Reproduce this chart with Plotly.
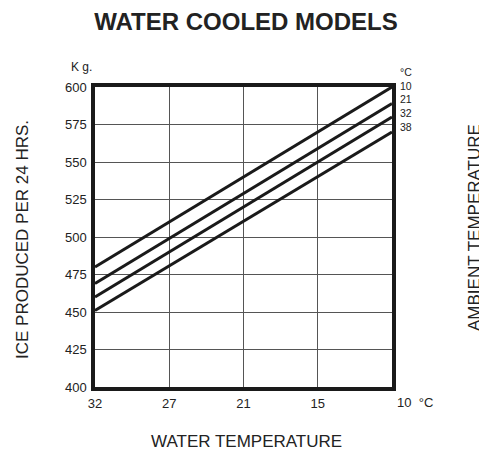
import plotly.graph_objects as go

# ---- data ----
water_temps = ["32", "27", "21", "15", "10"]          # x categories (°C)
ambient_temps = ["10", "21", "32", "38"]              # series (°C)
ice_at_32 = [480, 469, 460, 451]                       # kg / 24h at water 32 °C
ice_at_10 = [600, 589, 580, 570]                       # kg / 24h at water 10 °C
y_ticks = [400, 425, 450, 475, 500, 525, 550, 575, 600]

OFF = 8  # page body margin
W, H = 487 - OFF, 452 - OFF
L, R, T, B = 95 - OFF, 392 - OFF, 87 - OFF, 387 - OFF
FONT = "Liberation Sans, Arial, sans-serif"
TXT = "#222222"

fig = go.Figure()
for amb, y0, y1 in zip(ambient_temps, ice_at_32, ice_at_10):
    fig.add_trace(go.Scatter(
        x=[water_temps[0], water_temps[-1]], y=[y0, y1],
        mode="lines", line=dict(color="#1a1a1a", width=3),
        name=amb, showlegend=False, hoverinfo="skip"))


def px(x, y):
    x -= OFF
    y -= OFF
    return (x - L) / (R - L), (B - y) / (B - T)


anns = []


def ann(x, y, text, size=13, xanchor="center", yanchor="middle", angle=0, align="center"):
    ax, ay = px(x, y)
    anns.append(dict(x=ax, y=ay, xref="paper", yref="paper", text=text, showarrow=False,
                     xanchor=xanchor, yanchor=yanchor, textangle=angle, align=align,
                     font=dict(family=FONT, size=size, color=TXT)))


ann(81, 67, "K g.", size=12)
# stacked legend of ambient temperatures at the right end of the lines
ann(398, 99, "<br>".join(["°C"] + ambient_temps), size=10.5, xanchor="left", align="left")
ann(395, 402, "10 &nbsp;°C", xanchor="left")
ann(22, 240, "ICE PRODUCED PER 24 HRS.", size=17, angle=-90)
ann(474, 228, "AMBIENT TEMPERATURE", size=17, angle=-90)
ann(246, 441, "WATER TEMPERATURE", size=17)

fig.update_layout(
    width=W, height=H,
    margin=dict(l=L, r=W - R, t=T, b=H - B, pad=0),
    paper_bgcolor="white", plot_bgcolor="white",
    title=dict(text="<b>WATER COOLED MODELS</b>", x=(246 - OFF) / W, xanchor="center",
               y=1 - (22 - OFF) / H, yanchor="middle", yref="container",
               font=dict(family=FONT, size=24, color=TXT)),
    annotations=anns,
    font=dict(family=FONT, size=13, color=TXT),
)
fig.update_xaxes(
    type="category", categoryorder="array", categoryarray=water_temps,
    range=[0, len(water_temps) - 1],
    tickvals=water_temps[:-1], ticktext=water_temps[:-1],
    ticks="", ticklabelstandoff=2,
    showgrid=True, gridcolor="#555555", gridwidth=1.2,
    showline=True, linecolor="#1a1a1a", linewidth=3.5, mirror=True,
    zeroline=False, fixedrange=True,
    tickfont=dict(family=FONT, size=13, color=TXT),
)
fig.update_yaxes(
    range=[400, 600], tickvals=y_ticks, ticks="", ticklabelstandoff=2,
    showgrid=True, gridcolor="#555555", gridwidth=1.2,
    showline=True, linecolor="#1a1a1a", linewidth=3.5, mirror=True,
    zeroline=False, fixedrange=True,
    tickfont=dict(family=FONT, size=13, color=TXT),
)

fig.write_html("out.html")
